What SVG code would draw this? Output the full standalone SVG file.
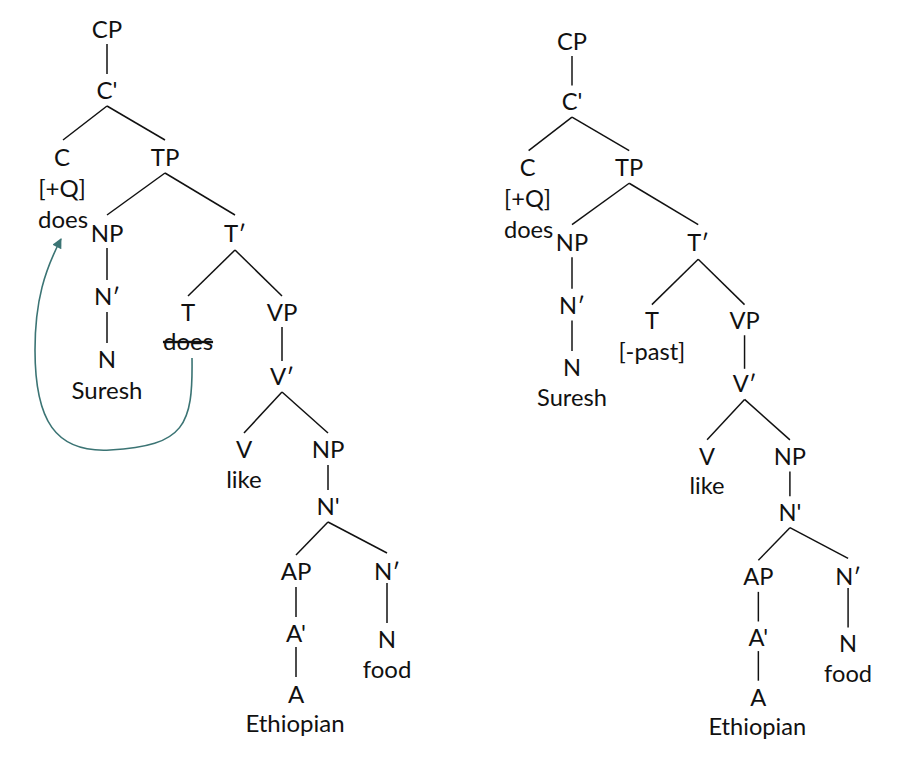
<svg xmlns="http://www.w3.org/2000/svg" width="916" height="772" viewBox="0 0 916 772">
<style>
text{font-family:Lato,"Liberation Sans",Arial,sans-serif;font-size:24px;fill:#111;text-anchor:middle}
.strike{text-decoration:line-through}
.mv{fill:none;stroke:#3b7474;stroke-width:1.6}
</style>
<defs>
<marker id="ah" viewBox="0 0 10 10" refX="9" refY="5" markerWidth="11" markerHeight="10" markerUnits="userSpaceOnUse" orient="auto"><path d="M0,0 L10,5 L0,10 z" fill="#3b7474"/></marker>
<g id="edges" stroke="#111" stroke-width="1.5" fill="none">
<line x1="107" y1="44" x2="107" y2="74"/>
<line x1="107" y1="106" x2="63" y2="140"/>
<line x1="107" y1="106" x2="165" y2="140"/>
<line x1="165" y1="173" x2="107" y2="215"/>
<line x1="165" y1="173" x2="235" y2="215"/>
<line x1="107" y1="248" x2="107" y2="280"/>
<line x1="107" y1="312" x2="107" y2="343"/>
<line x1="235" y1="250" x2="188" y2="296"/>
<line x1="235" y1="250" x2="282" y2="296"/>
<line x1="282" y1="327" x2="282" y2="361"/>
<line x1="282" y1="392" x2="244" y2="433"/>
<line x1="282" y1="392" x2="328" y2="433"/>
<line x1="328" y1="465" x2="328" y2="490"/>
<line x1="328" y1="522" x2="296" y2="555"/>
<line x1="328" y1="522" x2="387" y2="553"/>
<line x1="296" y1="587" x2="296" y2="617"/>
<line x1="296" y1="647" x2="296" y2="677"/>
<line x1="387" y1="583" x2="387" y2="623"/>
</g>
</defs>
<rect width="916" height="772" fill="#fff"/>
<g id="connectors">
<g id="left-edges"><use href="#edges"/></g>
<g id="right-edges" transform="matrix(0.986,0,0,0.987,466.5,12.5)"><use href="#edges"/></g>
<path id="movement-arrow" class="mv" marker-end="url(#ah)" d="M192,358 C193,425 185,446 110,450 C55,453 35,420 35,350 C35,300 45,270 61,239"/>
</g>
<g id="left-tree">
<g id="L-CP"><text x="107" y="38">CP</text></g>
<g id="L-Cbar"><text x="107" y="99">C'</text></g>
<g id="L-C"><text x="62" y="166">C</text><text x="62" y="197">[+Q]</text><text x="63" y="228">does</text></g>
<g id="L-TP"><text x="165" y="166">TP</text></g>
<g id="L-NP"><text x="107" y="242">NP</text></g>
<g id="L-Tbar"><text x="235" y="242">T′</text></g>
<g id="L-Nbar"><text x="107" y="305">N′</text></g>
<g id="L-N"><text x="107" y="368">N</text><text x="107" y="399">Suresh</text></g>
<g id="L-T"><text x="188" y="321">T</text><text class="strike" x="188" y="350">does</text></g>
<g id="L-VP"><text x="282" y="321">VP</text></g>
<g id="L-Vbar"><text x="282" y="385">V′</text></g>
<g id="L-V"><text x="244" y="458">V</text><text x="244" y="488">like</text></g>
<g id="L-NP2"><text x="328" y="458">NP</text></g>
<g id="L-Nbar2"><text x="328" y="515">N'</text></g>
<g id="L-AP"><text x="296" y="580">AP</text></g>
<g id="L-Nbar3"><text x="387" y="580">N′</text></g>
<g id="L-Abar"><text x="296" y="642">A'</text></g>
<g id="L-N2"><text x="387" y="648">N</text><text x="387" y="678">food</text></g>
<g id="L-A"><text x="296" y="703">A</text><text x="295" y="732">Ethiopian</text></g>
</g>
<g id="right-tree" transform="matrix(0.986,0,0,0.987,466.5,12.5)">
<g id="R-CP"><text x="107" y="38">CP</text></g>
<g id="R-Cbar"><text x="107" y="99">C'</text></g>
<g id="R-C"><text x="62" y="166">C</text><text x="62" y="197">[+Q]</text><text x="63" y="228">does</text></g>
<g id="R-TP"><text x="165" y="166">TP</text></g>
<g id="R-NP"><text x="107" y="242">NP</text></g>
<g id="R-Tbar"><text x="235" y="242">T′</text></g>
<g id="R-Nbar"><text x="107" y="305">N′</text></g>
<g id="R-N"><text x="107" y="368">N</text><text x="107" y="399">Suresh</text></g>
<g id="R-T"><text x="188" y="321">T</text><text x="188" y="352">[-past]</text></g>
<g id="R-VP"><text x="282" y="321">VP</text></g>
<g id="R-Vbar"><text x="282" y="385">V′</text></g>
<g id="R-V"><text x="244" y="458">V</text><text x="244" y="488">like</text></g>
<g id="R-NP2"><text x="328" y="458">NP</text></g>
<g id="R-Nbar2"><text x="328" y="515">N'</text></g>
<g id="R-AP"><text x="296" y="580">AP</text></g>
<g id="R-Nbar3"><text x="387" y="580">N′</text></g>
<g id="R-Abar"><text x="296" y="642">A'</text></g>
<g id="R-N2"><text x="387" y="648">N</text><text x="387" y="678">food</text></g>
<g id="R-A"><text x="296" y="703">A</text><text x="295" y="732">Ethiopian</text></g>
</g>
</svg>
